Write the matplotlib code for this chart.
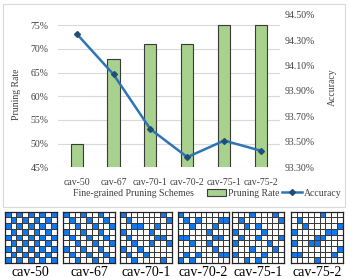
import matplotlib
matplotlib.use("Agg")
import matplotlib.pyplot as plt
from matplotlib.colors import ListedColormap
from matplotlib.patches import Rectangle
import numpy as np

plt.rcParams['font.family'] = ['Liberation Serif', 'DejaVu Serif']

schemes = ["cav-50", "cav-67", "cav-70-1", "cav-70-2", "cav-75-1", "cav-75-2"]
pruning_rate = [50.0, 67.8, 71.0, 71.0, 75.0, 75.0]
accuracy = [94.35, 94.03, 93.60, 93.38, 93.51, 93.43]

# 9x9 kernel patterns, 1 = kept weight (blue)
patterns = {
    "cav-50": ["101010101", "010101010", "101010101", "010101010", "101010101",
               "010101010", "101010101", "010101010", "101010101"],
    "cav-67": ["100100100", "010010010", "001001001", "100100100", "010010010",
               "001001001", "100100100", "010010010", "001001001"],
    "cav-70-1": ["100000010", "010000001", "001100100", "100001000", "010000110",
                 "001001001", "100100000", "010010000", "001000010"],
    "cav-70-2": ["100000000", "010100011", "001000100", "000001000", "110000110",
                 "001001000", "000000100", "010100011", "101000000"],
    "cav-75-1": ["000100010", "010000001", "001010000", "100001000", "010010001",
                 "100000100", "000100010", "100001000", "001010000"],
    "cav-75-2": ["000001000", "010000000", "001000001", "100000110", "000011000",
                 "100110000", "000000001", "110000010", "000010000"],
}

W, H = 349, 278
fig = plt.figure(figsize=(W / 100, H / 100), dpi=100)

def fx(px):
    return px / W

def fy(py):
    return 1 - py / H

# chart frame
fig.patches.append(Rectangle((fx(3), fy(207)), fx(342), 203 / H, transform=fig.transFigure,
                             fill=False, edgecolor='#D9D9D9', lw=0.8))

text_col = '#404040'
left, right, top, bottom = 58.2, 279.5, 14.7, 167.3
ax = fig.add_axes([fx(left), fy(bottom), fx(right - left), (bottom - top) / H])
x = np.arange(len(schemes))
bars = ax.bar(x, pruning_rate, width=0.33, color='#A9D18E', edgecolor='#3A3A3A', lw=0.8,
              label='Pruning Rate', zorder=2)
ax.set_ylim(45, 77.2)
ax.set_xlim(-0.5, len(schemes) - 0.5)
ax.set_yticks(range(45, 80, 5))
ax.set_yticklabels([f"{v}%" for v in range(45, 80, 5)])
for v in range(45, 80, 5):
    ax.axhline(v, color='#D9D9D9', lw=0.8, zorder=1)
ax.set_xticks(x)
ax.set_xticklabels(schemes)
for s in ax.spines.values():
    s.set_visible(False)
ax.tick_params(length=0, labelsize=7, colors=text_col)
ax.tick_params(axis='y', pad=7)
ax.tick_params(axis='x', pad=8)
ax.set_ylabel("Pruning Rate", fontsize=7, color=text_col)
ax.yaxis.set_label_coords(-0.170, 0.477)

ax2 = ax.twinx()
line, = ax2.plot(x, accuracy, color='#2E75B6', lw=1.8, marker='D', markersize=3,
                 markerfacecolor='#1F4E79', markeredgecolor='#1F4E79', label='Accuracy', zorder=3)
ax2.set_ylim(93.30, 94.50)
acc_ticks = [93.30, 93.50, 93.70, 93.90, 94.10, 94.30, 94.50]
ax2.set_yticks(acc_ticks)
ax2.set_yticklabels([f"{v:.2f}%" for v in acc_ticks])
for s in ax2.spines.values():
    s.set_visible(False)
ax2.tick_params(length=0, labelsize=7, colors=text_col, pad=4)
ax2.set_ylabel("Accuracy", fontsize=7, color=text_col, rotation=90)
ax2.yaxis.set_label_coords(1.218, 0.523)

fig.text(fx(133), fy(193), "Fine-grained Pruning Schemes", fontsize=7, color=text_col,
         ha='center', va='center')
fig.legend([bars, line], ['Pruning Rate', 'Accuracy'], loc='center', ncol=2,
           bbox_to_anchor=(fx(274), fy(193)), frameon=False, fontsize=7,
           handlelength=2.0, handletextpad=0.2, columnspacing=0.3, labelcolor=text_col)

# kernel pattern grids
grid_x = [5, 63.3, 120, 177.7, 232.3, 291]
gsize = 51.5
cmap = ListedColormap(['white', '#0F78EE'])
for name, gx in zip(schemes, grid_x):
    g = np.array([[int(ch) for ch in row] for row in patterns[name]])
    gax = fig.add_axes([fx(gx), fy(211.7 + gsize), fx(gsize), gsize / H])
    gax.pcolormesh(g, cmap=cmap, vmin=0, vmax=1, edgecolors='#3A3A3A', linewidth=0.6)
    gax.set_xlim(0, 9)
    gax.set_ylim(9, 0)
    gax.set_xticks([])
    gax.set_yticks([])
    for s in gax.spines.values():
        s.set_color('#222222')
        s.set_linewidth(0.9)
    fig.text(fx(gx + gsize / 2), fy(272), name, fontsize=10, ha='center', va='center',
             color='black')

fig.savefig("out.png", dpi=100)
